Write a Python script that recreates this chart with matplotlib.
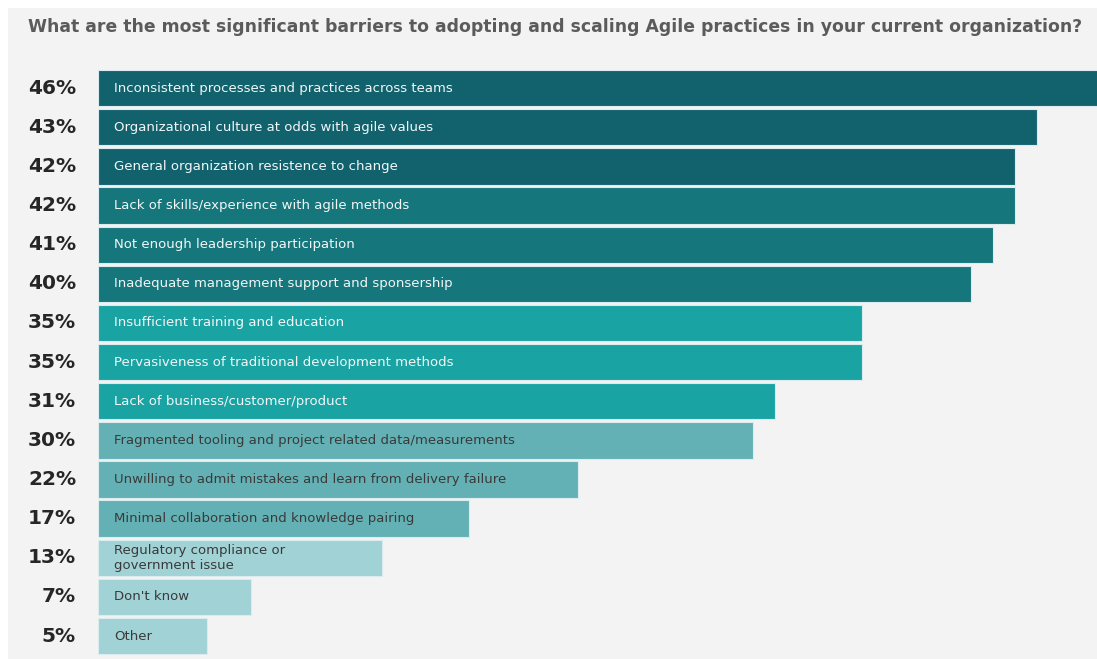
import matplotlib.pyplot as plt
from matplotlib.patches import Rectangle

# survey answers, top to bottom
barriers = [
    "Inconsistent processes and practices across teams",
    "Organizational culture at odds with agile values",
    "General organization resistence to change",
    "Lack of skills/experience with agile methods",
    "Not enough leadership participation",
    "Inadequate management support and sponsership",
    "Insufficient training and education",
    "Pervasiveness of traditional development methods",
    "Lack of business/customer/product",
    "Fragmented tooling and project related data/measurements",
    "Unwilling to admit mistakes and learn from delivery failure",
    "Minimal collaboration and knowledge pairing",
    "Regulatory compliance or\ngovernment issue",
    "Don't know",
    "Other",
]
percent = [46, 43, 42, 42, 41, 40, 35, 35, 31, 30, 22, 17, 13, 7, 5]

bar_colors = ["#12626e"] * 3 + ["#15767c"] * 3 + ["#1aa3a3"] * 3 + ["#63b1b5"] * 3 + ["#a1d2d6"] * 3
text_colors = ["#f2f7f7"] * 9 + ["#3a3a3a"] * 6

W, H = 1097, 659
fig = plt.figure(figsize=(W / 100, H / 100), dpi=100)
fig.patch.set_facecolor("white")
# light grey panel behind everything, leaving a thin white margin top/left
fig.patches.append(Rectangle((8 / W, 0), 1 - 8 / W, 1 - 8 / H, transform=fig.transFigure,
                             facecolor="#f3f3f3", edgecolor="none", zorder=-1))

fig.text(28 / W, 1 - 27 / H, "What are the most significant barriers to adopting and scaling "
         "Agile practices in your current organization?",
         fontsize=12.4, fontweight="bold", color="#5b5b5b", va="center", ha="left")

ax = fig.add_axes([98 / W, 1 - 655.6 / H, 1 - 98 / W, 587 / H])
ax.set_facecolor("none")
pos = list(range(len(barriers)))
ax.barh(pos, percent, height=0.93, color=bar_colors, edgecolor="#dcecee", linewidth=0.8)
ax.set_xlim(0, 45.75)
ax.set_ylim(len(barriers) - 0.5, -0.5)
ax.axis("off")

for i, (lab, p) in enumerate(zip(barriers, percent)):
    ax.annotate(f"{p}%", xy=(0, i), xycoords=("axes fraction", "data"),
                xytext=(-22, 0), textcoords="offset pixels",
                ha="right", va="center", fontsize=14.5, fontweight="bold", color="#262626")
    ax.annotate(lab, xy=(0, i), xycoords="data", xytext=(16, 0), textcoords="offset pixels",
                ha="left", va="center", fontsize=9.5, color=text_colors[i], linespacing=1.15)

fig.savefig("out.png", dpi=100, facecolor=fig.get_facecolor())
